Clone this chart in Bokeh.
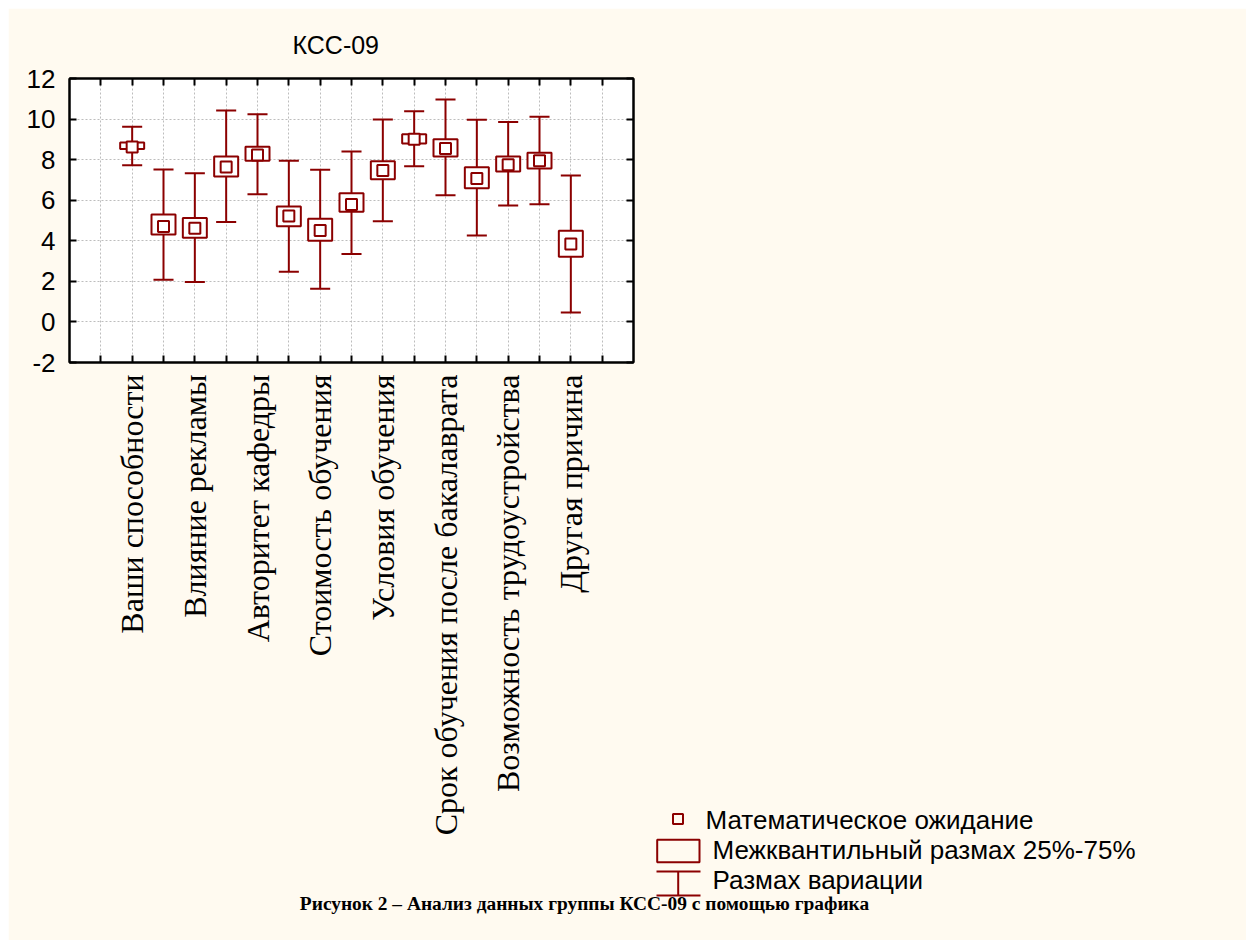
import numpy as np
from bokeh.plotting import figure
from bokeh.models import Range1d, FixedTicker, LinearAxis, GridBox
from bokeh.core.properties import value
from bokeh.embed import file_html
from bokeh.resources import INLINE

# ---------------- data ----------------
title_text = "КСС-09"
shown_labels = ["Ваши способности", "Влияние рекламы", "Авторитет кафедры",
                "Стоимость обучения", "Условия обучения",
                "Срок обучения после бакалаврата", "Возможность трудоустройства",
                "Другая причина"]
means = [8.62, 4.71, 4.62, 7.64, 8.23, 5.22, 4.51, 5.79, 7.46, 9.01, 8.55, 7.07, 7.75, 7.95, 3.84]
q1    = [8.52, 4.31, 4.15, 7.17, 7.94, 4.72, 4.00, 5.43, 7.03, 8.80, 8.16, 6.59, 7.42, 7.56, 3.21]
q3    = [8.84, 5.30, 5.12, 8.16, 8.63, 5.69, 5.09, 6.34, 7.92, 9.25, 9.01, 7.62, 8.16, 8.34, 4.49]
mins  = [7.72, 2.08, 1.97, 4.93, 6.29, 2.47, 1.64, 3.35, 4.96, 7.67, 6.24, 4.26, 5.74, 5.80, 0.47]
maxs  = [9.62, 7.51, 7.33, 10.42, 10.24, 7.94, 7.50, 8.40, 9.98, 10.39, 10.96, 9.97, 9.85, 10.11, 7.22]
y_ticks = [-2, 0, 2, 4, 6, 8, 10, 12]
legend_labels = ["Математическое ожидание", "Межквантильный размах 25%-75%", "Размах вариации"]
caption = "Рисунок 2 – Анализ данных группы КСС-09 с помощью графика"

# ---------------- style / layout ----------------
RED = "#8B0000"
CREAM = "#FFFAF0"
OFF = 8                                  # white page margin (left/top)
PAGE_W, PAGE_H = 1246, 940
FL, FR, FT, FB = 69, 633, 75, 362        # frame edges in page px
X0, X1, Y0, Y1 = 0, 18, -2, 12

n = len(means)
pos = np.arange(n) + 2
x_ticks = list(range(1, 18))
label_ticks = [int(v) for v in pos[::2]]
other_ticks = [t for t in x_ticks if t not in label_ticks]
cap = 0.32

fig_w, fig_h = PAGE_W - OFF, PAGE_H - OFF
p = figure(width=fig_w, height=fig_h, x_range=Range1d(X0, X1), y_range=Range1d(Y0, Y1),
           output_backend="svg", toolbar_location=None, tools="",
           min_border_left=FL - OFF, min_border_right=PAGE_W - FR,
           min_border_top=FT - OFF, min_border_bottom=PAGE_H - FB,
           background_fill_color="white", border_fill_color=CREAM, frame_align=False)
p.outline_line_color = "black"
p.outline_line_width = 2

# title
p.title.text = title_text
p.title.align = "left"
p.title.offset = 223
p.title.standoff = 40
p.title.text_font = "Liberation Sans"
p.title.text_font_size = "25px"
p.title.text_font_style = "normal"
p.title.text_color = "black"

# bottom axis: labelled ticks on every other variable, unlabelled ticks between
xa = p.xaxis[0]
xa.ticker = FixedTicker(ticks=label_ticks, minor_ticks=other_ticks)
xa.major_label_overrides = {t: lab for t, lab in zip(label_ticks, shown_labels)}
xa.major_label_orientation = np.pi / 2
xa.major_label_text_font = "Liberation Serif"
xa.major_label_text_font_size = "32px"
xa.major_label_text_color = "black"
xa.major_label_standoff = 12

ya = p.yaxis[0]
ya.ticker = FixedTicker(ticks=y_ticks)
ya.major_label_overrides = {t: str(t) for t in y_ticks}
ya.major_label_text_font = "Liberation Sans"
ya.major_label_text_font_size = "26px"
ya.major_label_text_color = "black"
ya.major_label_standoff = 14

# tick marks only (no labels) on the top and right edges
top_ax = LinearAxis(ticker=FixedTicker(ticks=[], minor_ticks=x_ticks))
right_ax = LinearAxis(ticker=FixedTicker(ticks=[], minor_ticks=y_ticks))
p.add_layout(top_ax, "above")
p.add_layout(right_ax, "right")

for ax in [xa, ya, top_ax, right_ax]:
    ax.axis_line_color = "black"
    ax.axis_line_width = 2
    ax.major_tick_in = 7
    ax.major_tick_out = 0
    ax.major_tick_line_width = 2
    ax.major_tick_line_color = "black"
    ax.minor_tick_in = 7
    ax.minor_tick_out = 0
    ax.minor_tick_line_width = 2
    ax.minor_tick_line_color = "black"

p.xgrid.ticker = FixedTicker(ticks=x_ticks)
p.ygrid.ticker = FixedTicker(ticks=y_ticks)
for g in [p.xgrid, p.ygrid]:
    g.grid_line_color = "#BDBDBD"
    g.grid_line_dash = "2 2"
    g.grid_line_width = 1

# ---------------- marks ----------------
mins_a, maxs_a = np.array(mins), np.array(maxs)
q1_a, q3_a = np.array(q1), np.array(q3)
p.segment(x0=pos, y0=mins_a, x1=pos, y1=maxs_a, line_color=RED, line_width=2)
p.segment(x0=pos - cap, y0=maxs_a, x1=pos + cap, y1=maxs_a, line_color=RED, line_width=2)
p.segment(x0=pos - cap, y0=mins_a, x1=pos + cap, y1=mins_a, line_color=RED, line_width=2)
p.rect(x=pos, y=(q1_a + q3_a) / 2, width=24, width_units="screen", height=q3_a - q1_a,
       fill_color="white", line_color=RED, line_width=2)
p.scatter(x=pos, y=means, marker="square", size=11, fill_color="white",
          line_color=RED, line_width=2)

# ---------------- transparent overlay for legend and caption (page pixel coordinates) ----------------
ov = figure(width=fig_w, height=fig_h, title=None,
            x_range=Range1d(OFF, PAGE_W), y_range=Range1d(PAGE_H, OFF),
            output_backend="svg", toolbar_location=None, tools="",
            x_axis_type=None, y_axis_type=None, min_border=0, frame_align=False,
            background_fill_color=None, border_fill_color=None, outline_line_color=None)
ov.grid.visible = False
ov.scatter(x=[677.5], y=[818.5], marker="square", size=10, fill_color=None,
           line_color=RED, line_width=2)
ov.quad(left=[656.7], right=[699], top=[839.3], bottom=[861.7], fill_color=None,
        line_color=RED, line_width=2)
ov.segment(x0=[656, 656, 677.7], y0=[871, 895, 871], x1=[700, 700, 677.7], y1=[871, 895, 895],
           line_color=RED, line_width=2)
ov.text(x=[705, 712, 712], y=[819.5, 849.5, 879.5], text=legend_labels,
        text_align="left", text_baseline="middle",
        text_font=value("Liberation Sans"), text_font_size=value("26px"), text_color="black")
ov.text(x=[584], y=[903], text=[caption], text_align="center", text_baseline="middle",
        text_font=value("Liberation Serif"), text_font_size=value("19.4px"),
        text_font_style="bold", text_color="black")

layout = GridBox(children=[(p, 0, 0), (ov, 0, 0)], margin=(OFF, 0, 0, OFF))
open("out.html", "w").write(file_html(layout, INLINE))
